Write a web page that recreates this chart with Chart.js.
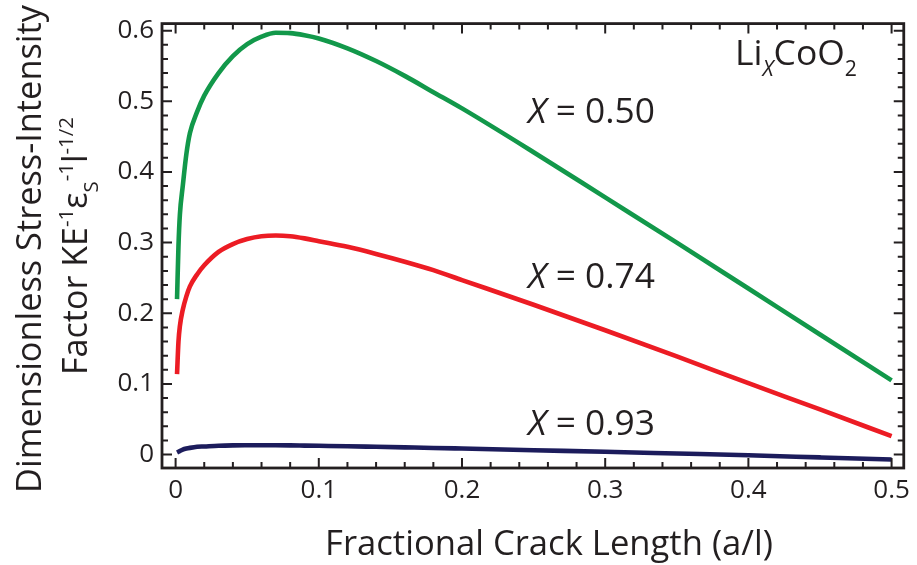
<!DOCTYPE html>
<html>
<head>
<meta charset="utf-8">
<script src="https://cdn.jsdelivr.net/npm/chart.js@4.4.1/dist/chart.umd.min.js"></script>
<style>
  html, body { margin: 0; padding: 0; background: #fff; }
  #wrap { width: 917px; height: 565px; }
</style>
</head>
<body>
<div id="wrap"><canvas id="chart" width="917" height="565"></canvas></div>
<script>
// Fractional crack length (a/l) sample points
const crackLength = [0.001, 0.002, 0.003, 0.005, 0.0075, 0.01, 0.015, 0.02, 0.03, 0.04, 0.05,
  0.06, 0.07, 0.08, 0.09, 0.1, 0.12, 0.14, 0.16, 0.18, 0.2, 0.25, 0.3, 0.35, 0.4, 0.45, 0.5];

// Dimensionless stress-intensity factor for each Li fraction
const kX050 = [0.22, 0.295, 0.34, 0.38, 0.425, 0.455, 0.485, 0.508, 0.54, 0.564, 0.581,
  0.5915, 0.597, 0.5965, 0.5935, 0.589, 0.575, 0.557, 0.536, 0.513, 0.490, 0.428, 0.364, 0.300,
  0.235, 0.170, 0.105];
const kX074 = [0.114, 0.16, 0.182, 0.205, 0.224, 0.238, 0.255, 0.268, 0.287, 0.298, 0.305,
  0.309, 0.310, 0.309, 0.306, 0.302, 0.294, 0.284, 0.273, 0.261, 0.247, 0.212, 0.176, 0.139,
  0.101, 0.064, 0.026];
const kX093 = [0.003, 0.004, 0.005, 0.007, 0.0085, 0.0095, 0.011, 0.0115, 0.0125, 0.013, 0.0132,
  0.0133, 0.0132, 0.013, 0.0127, 0.0124, 0.0118, 0.011, 0.0102, 0.0094, 0.0085, 0.0062, 0.004,
  0.0015, -0.001, -0.004, -0.007];

const xTicks = [0, 0.1, 0.2, 0.3, 0.4, 0.5];
const xTickLabels = ['0', '0.1', '0.2', '0.3', '0.4', '0.5'];
const yTicks = [0, 0.1, 0.2, 0.3, 0.4, 0.5, 0.6];
const yTickLabels = ['0', '0.1', '0.2', '0.3', '0.4', '0.5', '0.6'];

const INK = '#231f20';
const FONT = '"Open Sans", "Noto Sans", sans-serif';

function pairs(ys) {
  return crackLength.map((x, i) => ({ x: x, y: ys[i] }));
}

function lineSet(label, ys, color) {
  return {
    label: label,
    data: pairs(ys),
    borderColor: color,
    borderWidth: 4.6,
    pointRadius: 0,
    fill: false,
    cubicInterpolationMode: 'monotone'
  };
}

// rich text: segments {t, sub, sup, italic}
function richWidth(ctx, segs, size) {
  let w = 0;
  segs.forEach((s) => {
    const sz = (s.sub || s.sup) ? size * 0.6 : size;
    ctx.font = (s.italic ? 'italic ' : '') + sz + 'px ' + FONT;
    w += ctx.measureText(s.t).width;
  });
  return w;
}

function drawRich(ctx, segs, x, y, size, align) {
  let cx = x;
  const w = richWidth(ctx, segs, size);
  if (align === 'center') cx = x - w / 2;
  if (align === 'right') cx = x - w;
  ctx.textBaseline = 'alphabetic';
  ctx.textAlign = 'left';
  segs.forEach((s) => {
    const sz = (s.sub || s.sup) ? size * 0.6 : size;
    ctx.font = (s.italic ? 'italic ' : '') + sz + 'px ' + FONT;
    let dy = 0;
    if (s.sub) dy = size * 0.32;
    if (s.sup) dy = -size * 0.42;
    ctx.fillText(s.t, cx, y + dy);
    cx += ctx.measureText(s.t).width;
  });
}

// size that makes the text span a given width
function fitSize(ctx, segs, width, base) {
  return base * width / richWidth(ctx, segs, base);
}

const decorations = {
  id: 'decorations',
  afterDraw(chart) {
    const ctx = chart.ctx;
    const a = chart.chartArea;
    const xs = chart.scales.x;
    const ys = chart.scales.y;
    ctx.save();
    ctx.strokeStyle = INK;
    ctx.fillStyle = INK;

    // inward ticks on all four sides
    ctx.lineWidth = 2;
    ctx.beginPath();
    for (let i = 0; i <= 25; i++) {
      const v = i * 0.02;
      const px = xs.getPixelForValue(v);
      const len = (i % 5 === 0) ? 10 : 6;
      ctx.moveTo(px, a.bottom); ctx.lineTo(px, a.bottom - len);
      ctx.moveTo(px, a.top); ctx.lineTo(px, a.top + len);
    }
    for (let i = -1; i <= 30; i++) {
      const v = i * 0.02;
      const py = ys.getPixelForValue(v);
      if (py > a.bottom || py < a.top) continue;
      const len = (i % 5 === 0) ? 10 : 6;
      ctx.moveTo(a.left, py); ctx.lineTo(a.left + len, py);
      ctx.moveTo(a.right, py); ctx.lineTo(a.right - len, py);
    }
    ctx.stroke();

    // frame
    ctx.lineWidth = 2.8;
    ctx.strokeRect(a.left, a.top, a.right - a.left, a.bottom - a.top);

    // x title
    const xt = [{ t: 'Fractional Crack Length (a/l)' }];
    drawRich(ctx, xt, 549, 555, fitSize(ctx, xt, 448, 36), 'center');

    // y title, two rotated lines
    ctx.save();
    ctx.translate(41, 249);
    ctx.rotate(-Math.PI / 2);
    const y1 = [{ t: 'Dimensionless Stress-Intensity' }];
    drawRich(ctx, y1, 0, 0, fitSize(ctx, y1, 488, 36), 'center');
    ctx.restore();

    ctx.save();
    ctx.translate(87, 246);
    ctx.rotate(-Math.PI / 2);
    const y2 = [{ t: 'Factor KE' }, { t: '-1', sup: true }, { t: '\u03b5' }, { t: 'S', sub: true },
      { t: '-1', sup: true }, { t: 'l' }, { t: '-1/2', sup: true }];
    drawRich(ctx, y2, 0, 0, fitSize(ctx, y2, 258, 36), 'center');
    ctx.restore();

    // curve labels
    const labels = [['0.50', 123], ['0.74', 288], ['0.93', 435]];
    labels.forEach((l) => {
      const segs = [{ t: 'X', italic: true }, { t: ' = ' + l[0] }];
      drawRich(ctx, segs, 528, l[1], fitSize(ctx, segs, 127, 36), 'left');
    });

    const li = [{ t: 'Li' }, { t: 'X', sub: true, italic: true }, { t: 'CoO' }, { t: '2', sub: true }];
    drawRich(ctx, li, 735, 65, fitSize(ctx, li, 122, 34), 'left');

    ctx.restore();
  }
};

new Chart(document.getElementById('chart'), {
  type: 'line',
  data: {
    datasets: [
      lineSet('X = 0.50', kX050, '#12984a'),
      lineSet('X = 0.74', kX074, '#ec1c24'),
      lineSet('X = 0.93', kX093, '#1c1c5c')
    ]
  },
  options: {
    responsive: false,
    animation: false,
    layout: { padding: { top: 6, right: 8, left: 0, bottom: 0 } },
    plugins: {
      legend: { display: false },
      tooltip: { enabled: false }
    },
    scales: {
      x: {
        type: 'linear',
        min: -0.0095,
        max: 0.5085,
        grid: { display: false, drawTicks: false },
        border: { display: false },
        afterBuildTicks: (s) => { s.ticks = xTicks.map((v) => ({ value: v })); },
        afterFit: (s) => { s.height = 97; },
        ticks: {
          padding: 7,
          color: INK,
          font: { family: FONT, size: 26 },
          maxRotation: 0,
          callback: (v, i) => xTickLabels[i]
        }
      },
      y: {
        type: 'linear',
        min: -0.019,
        max: 0.61,
        grid: { display: false, drawTicks: false },
        border: { display: false },
        afterBuildTicks: (s) => { s.ticks = yTicks.map((v) => ({ value: v })); },
        afterFit: (s) => { s.width = 162; },
        ticks: {
          padding: 8,
          color: INK,
          font: { family: FONT, size: 26 },
          callback: (v, i) => yTickLabels[i]
        }
      }
    }
  },
  plugins: [decorations]
});
</script>
</body>
</html>
